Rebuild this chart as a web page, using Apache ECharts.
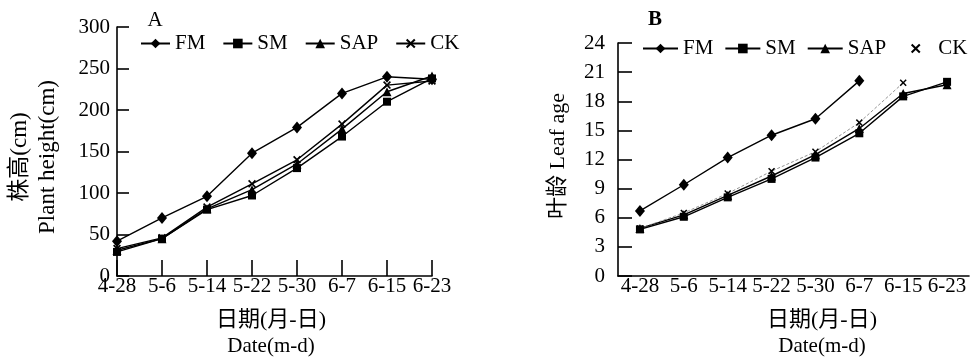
<!DOCTYPE html>
<html>
<head>
<meta charset="utf-8">
<script src="https://cdn.jsdelivr.net/npm/echarts@6/dist/echarts.min.js"></script>
<style>
  html, body { margin: 0; padding: 0; background: #fff; }
  #chart { width: 972px; height: 361px; }
</style>
</head>
<body>
<div id="chart"></div>
<script>
const categories = ['4-28', '5-6', '5-14', '5-22', '5-30', '6-7', '6-15', '6-23']

// A: plant height (cm)
const heightFM = [42, 70, 96, 148, 179, 220, 240, 237]
const heightSM = [29, 45, 80, 97, 130, 168, 210, 238]
const heightSAP = [31, 45, 81, 104, 135, 177, 222, 241]
const heightCK = [33, 46, 83, 111, 140, 183, 230, 235]

// B: leaf age
const leafFM = [6.7, 9.4, 12.2, 14.5, 16.2, 20.1, null, null]
const leafSM = [4.8, 6.1, 8.1, 10.0, 12.2, 14.7, 18.5, 20.0]
const leafSAP = [4.9, 6.3, 8.3, 10.3, 12.5, 15.2, 18.8, 19.7]
const leafCK = [4.9, 6.5, 8.5, 10.8, 12.8, 15.8, 19.9, null]

const heightTicks = { min: 0, max: 300, interval: 50 }
const leafTicks = { min: 0, max: 24, interval: 3 }

const FONT = '"Liberation Serif", "Times New Roman", "Noto Sans CJK SC", serif'
const CROSS = 'path://M0,1.5L1.5,0L5,3.5L8.5,0L10,1.5L6.5,5L10,8.5L8.5,10L5,6.5L1.5,10L0,8.5L3.5,5Z'

const marks = {
  FM: { symbol: 'diamond', symbolSize: [10, 12] },
  SM: { symbol: 'rect', symbolSize: 8 },
  SAP: { symbol: 'triangle', symbolSize: 9 },
  CK: { symbol: CROSS, symbolSize: 8 }
}

const text = { color: '#000', fontFamily: FONT, fontSize: 21 }

function xAxisFor(gridIndex, boundaryGap) {
  return {
    type: 'category',
    gridIndex,
    data: categories,
    boundaryGap,
    axisLine: { lineStyle: { color: '#000', width: 1.6 } },
    axisTick: { inside: true, length: 16, lineStyle: { color: '#000', width: 1.6 }, interval: 0 },
    axisLabel: { ...text, margin: 0, interval: 0 },
    splitLine: { show: false }
  }
}

function yAxisFor(gridIndex, ticks, tickLen, labelMargin) {
  return {
    type: 'value',
    gridIndex,
    ...ticks,
    axisLine: { show: true, lineStyle: { color: '#000', width: 1.6 } },
    axisTick: { show: true, inside: true, length: tickLen, lineStyle: { color: '#000', width: 1.6 } },
    axisLabel: { ...text, margin: labelMargin },
    splitLine: { show: false }
  }
}

function lineSeries(name, data, axisIndex, extra) {
  return {
    name,
    type: 'line',
    xAxisIndex: axisIndex,
    yAxisIndex: axisIndex,
    data,
    ...marks[name],
    showSymbol: true,
    connectNulls: false,
    lineStyle: { color: '#000', width: 1.4 },
    itemStyle: { color: '#000' },
    emphasis: { disabled: true },
    z: name === 'FM' ? 4 : 3,
    ...extra
  }
}

function label(str, x, y, size, rotate, weight) {
  return {
    type: 'text', x, y, rotation: rotate ? Math.PI / 2 : 0,
    style: {
      text: str, font: (weight || '') + ' ' + size + 'px ' + FONT,
      fill: '#000', align: 'center', verticalAlign: 'middle'
    }
  }
}

const chart = echarts.init(document.getElementById('chart'))

chart.setOption({
  backgroundColor: '#fff',
  animation: false,
  grid: [
    { left: 117, top: 27, width: 315, height: 249, outerBoundsMode: 'none', containLabel: false },
    { left: 618, top: 43, width: 351, height: 233, outerBoundsMode: 'none', containLabel: false }
  ],
  xAxis: [xAxisFor(0, false), xAxisFor(1, true)],
  yAxis: [
    yAxisFor(0, heightTicks, 12, 7),
    yAxisFor(1, leafTicks, 14, 13)
  ],
  // panel B series carry a trailing space in their names so the two legends stay separate
  legend: [
    {
      left: 140, top: 33, padding: 0,
      itemWidth: 29, itemHeight: 12, itemGap: 17,
      textStyle: { ...text },
      data: ['FM', 'SM', 'SAP', 'CK'],
      selectedMode: false
    },
    {
      left: 642, top: 38, padding: 0, width: 330,
      itemWidth: 35, itemHeight: 12, itemGap: 11,
      textStyle: { ...text },
      formatter: n => n.trim(),
      data: ['FM ', 'SM ', 'SAP ', { name: 'CK ', lineStyle: { opacity: 0 } }],
      selectedMode: false
    }
  ],
  series: [
    lineSeries('FM', heightFM, 0),
    lineSeries('SM', heightSM, 0),
    lineSeries('SAP', heightSAP, 0),
    lineSeries('CK', heightCK, 0),
    lineSeries('FM', leafFM, 1, { name: 'FM ' }),
    lineSeries('SM', leafSM, 1, { name: 'SM ' }),
    lineSeries('SAP', leafSAP, 1, { name: 'SAP ' }),
    lineSeries('CK', leafCK, 1, {
      name: 'CK ',
      symbolSize: 7,
      lineStyle: { color: '#777', width: 0.8, type: [3, 2] }
    })
  ],
  graphic: [
    label('A', 155, 20, 21),
    label('B', 655, 20, 21, false, 'bold'),
    label('株高(cm)', 20, 157, 23, true),
    label('Plant height(cm)', 48, 157, 23, true),
    label('叶龄 Leaf age', 558, 156, 22, true),
    label('日期(月-日)', 271, 320, 22),
    label('Date(m-d)', 271, 346, 21),
    label('日期(月-日)', 822, 320, 22),
    label('Date(m-d)', 822, 346, 21)
  ]
})
</script>
</body>
</html>
